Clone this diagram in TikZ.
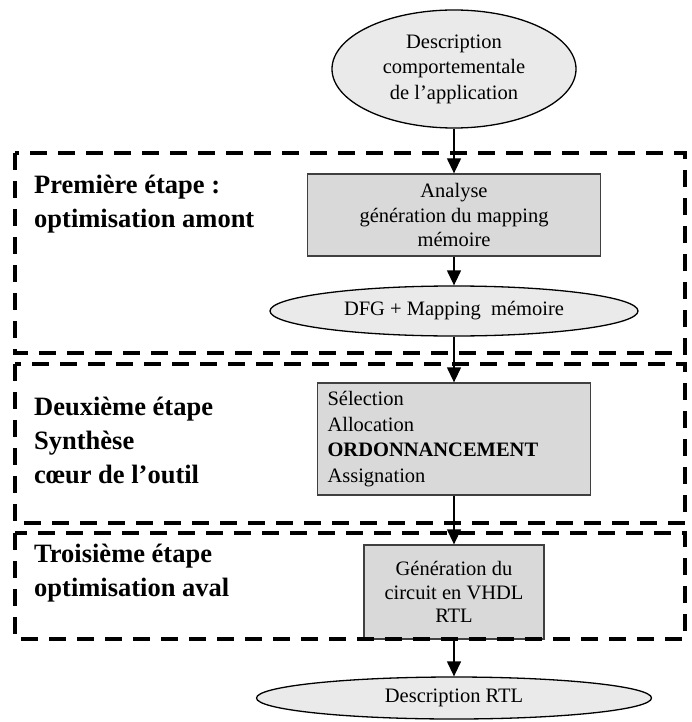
\documentclass[tikz,border=0pt]{standalone}
\usepackage{fontspec}
\setmainfont{Liberation Serif}
\usetikzlibrary{shapes.geometric,arrows.meta}
\definecolor{boxfill}{RGB}{217,217,217}
\definecolor{ellfill}{RGB}{234,234,234}
\definecolor{boxline}{RGB}{64,64,64}
\begin{document}
\begin{tikzpicture}[x=1pt,y=-1pt,
  ell/.style={ellipse, draw=black, line width=1.3pt, fill=ellfill, inner sep=0pt, align=center, font=\fontsize{20.5}{25.5}\selectfont},
  procbox/.style={rectangle, draw=boxline, line width=1.3pt, fill=boxfill, inner sep=0pt, align=center},
  stage/.style={draw=black, line width=4pt, dash pattern=on 17pt off 11pt},
  heading/.style={anchor=west, inner sep=0pt, align=left, font=\fontsize{26.5}{34}\selectfont\bfseries},
  flow/.style={draw=black, line width=1.3pt, -{Triangle[width=14pt,length=15pt]}}
]
\useasboundingbox (0,0) rectangle (692,722);
\node[ell, minimum width=244pt, minimum height=118pt] (desc) at (454,69) {Description\\comportementale\\de l’application};
\node[procbox, minimum width=293pt, minimum height=82pt, font=\fontsize{20.5}{24.5}\selectfont] (analyse) at (454,215) {Analyse\\génération du mapping\\mémoire};
\node[ell, minimum width=368pt, minimum height=50pt] (dfg) at (454,311) {DFG + Mapping\ \ mémoire};
\node[procbox, minimum width=273pt, minimum height=112pt, text width=253pt, align=left, font=\fontsize{20.5}{25.7}\selectfont] (synth) at (454,439) {Sélection\\Allocation\\\textbf{ORDONNANCEMENT}\\Assignation};
\node[procbox, minimum width=180pt, minimum height=94pt, font=\fontsize{20.5}{23.5}\selectfont] (gen) at (454,592) {Génération du\\circuit en VHDL\\RTL};
\node[ell, minimum width=395pt, minimum height=42pt] (rtl) at (454,698) {Description RTL};

\node[heading] (h1) at (34,204) {Première étape :\\optimisation amont};
\node[heading] (h2) at (34,440) {Deuxième étape\\Synthèse\\cœur de l’outil};
\node[heading] (h3) at (34,573) {Troisième étape\\optimisation aval};

\draw[flow] (desc.south) -- (analyse.north);
\draw[flow] (analyse.south) -- (dfg.north);
\draw[flow] (dfg.south) -- (synth.north);
\draw[flow] (synth.south) -- (gen.north);
\draw[flow] (gen.south) -- (rtl.north);

\draw[stage] (15,153) rectangle (685,353);
\draw[stage] (15,364) rectangle (685,523);
\draw[stage] (15,533) rectangle (685,639);
\end{tikzpicture}
\end{document}
